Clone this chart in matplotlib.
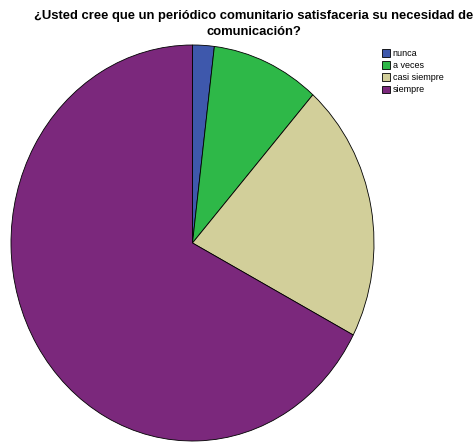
import matplotlib.pyplot as plt

# Survey answers: would a community newspaper meet your communication needs?
labels = ['nunca', 'a veces', 'casi siempre', 'siempre']
counts = [1, 5, 11, 35]
colors = ['#3e58ac', '#2eb848', '#d2cf9a', '#7b287c']

plt.rcParams['font.family'] = ['Liberation Sans', 'DejaVu Sans']

W, H = 476, 444
fig = plt.figure(figsize=(W / 100, H / 100), dpi=100)

# pie area in pixels: x 11..374, y 45..441 (slightly taller than wide)
ax = fig.add_axes([11 / W, (H - 441) / H, 363 / W, 396 / H])
wedges, _ = ax.pie(counts, colors=colors, startangle=90, counterclock=False,
                   wedgeprops=dict(edgecolor='black', linewidth=0.6))
for w in wedges:
    w.set_clip_on(False)
ax.set_aspect('auto')
ax.set_xlim(-1, 1)
ax.set_ylim(-1, 1)

fig.text(254 / W, 1 - 10 / H,
         '¿Usted cree que un periódico comunitario satisfaceria su necesidad de\ncomunicación?',
         ha='center', va='top', fontsize=9.4, fontweight='bold',
         multialignment='center', linespacing=1.4)

fig.legend(wedges, labels, loc='upper left',
           bbox_to_anchor=(382 / W, 1 - 49 / H), bbox_transform=fig.transFigure,
           frameon=False, fontsize=6.5, borderpad=0, borderaxespad=0,
           handlelength=0.9, handleheight=0.9, handletextpad=0.3,
           labelspacing=0.35)

fig.savefig('out.png', dpi=100)
